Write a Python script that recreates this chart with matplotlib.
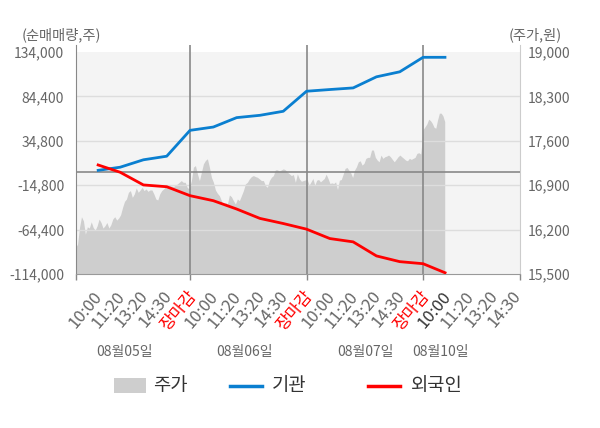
import numpy as np
import matplotlib
matplotlib.use("Agg")
import matplotlib.pyplot as plt
from matplotlib.patches import Rectangle
from matplotlib.lines import Line2D

plt.rcParams['font.family'] = ['Noto Sans CJK KR', 'DejaVu Sans']

# ---------------- data ----------------
tick_labels = ["10:00", "11:20", "13:20", "14:30", "장마감",
               "10:00", "11:20", "13:20", "14:30", "장마감",
               "10:00", "11:20", "13:20", "14:30", "장마감",
               "10:00", "11:20", "13:20", "14:30"]
date_labels = ["08월05일", "08월06일", "08월07일", "08월10일"]

# investor net buying at report slots (10:00, 11:20, 13:20, 14:30, close per day)
flow_slots = list(range(1, 17))
institution = [1600, 5300, 13600, 17600, 46500,
               50200, 60700, 63300, 67800, 90200,
               92100, 93900, 106300, 111900, 128100,
               128100]
foreign = [8300, -300, -14500, -16500, -26500,
           -32100, -41400, -51900, -57600, -63900,
           -74400, -78100, -93800, -100200, -102500,
           -113200]

# intraday price per day
price_day1 = [15916, 15970, 16233, 16403, 16339, 16128, 16244, 16224, 16323, 16233,
              16191, 16260, 16366, 16312, 16224, 16260, 16312, 16224, 16276, 16366,
              16403, 16350, 16382, 16434, 16550, 16645, 16683, 16788, 16815, 16708,
              16762, 16857, 16788, 16825, 16867, 16815, 16841, 16803, 16825, 16825,
              16762, 16683, 16667, 16762, 16815, 16841, 16878, 16867, 16894, 16886,
              16878, 16900, 16920, 16946, 16973, 16946, 16946, 16867, 16841]
price_day2 = [16973, 17184, 17210, 17079, 16973, 17105, 17237, 17290, 17317, 17184,
              17025, 16946, 16825, 16772, 16735, 16656, 16577, 16629, 16603, 16746,
              16719, 16656, 16603, 16683, 16656, 16735, 16815, 16920, 16946, 17000,
              17036, 17052, 17036, 17025, 17000, 16973, 16973, 16894, 16867, 16973,
              17025, 17052, 17142, 17142, 17121, 17142, 17158, 17142, 17105, 17079,
              17052, 17068, 16946, 17079, 17000, 16962, 16973, 16984]
price_day3 = [16990, 16900, 16953, 17006, 16900, 16979, 16990, 16953, 16979, 17006,
              17074, 17006, 16927, 16937, 16927, 16953, 16832, 16979, 16990, 17074,
              17164, 17180, 17138, 17095, 17022, 17138, 17190, 17269, 17285, 17217,
              17244, 17323, 17339, 17339, 17454, 17454, 17339, 17296, 17269, 17375,
              17323, 17348, 17359, 17375, 17348, 17307, 17269, 17307, 17348, 17375,
              17348, 17323, 17296, 17285, 17323, 17307, 17323, 17339, 17402, 17412,
              17391]
price_day4 = [17782, 17823, 17866, 17940, 17919, 17877, 17814, 17798, 17930, 18036,
              18036, 17993, 17903]
# time span (in report-slot units) covered by each day's price samples
day_spans = [(0.09, 4.96), (5.06, 9.95), (10.03, 14.9), (15.01, 15.93)]

left_ticks = [134000, 84400, 34800, -14800, -64400, -114000]
right_ticks = [19000, 18300, 17600, 16900, 16200, 15500]

# ---------------- style ----------------
BLUE = '#0a7fd0'
RED = '#ff0000'
AREA = '#cecece'
W, H = 600, 428

fig = plt.figure(figsize=(W / 100, H / 100), dpi=100)
ax1 = fig.add_axes([76 / W, (H - 274) / H, 444 / W, (274 - 45) / H])
ax2 = ax1.twinx()
ax1.set_zorder(2)
ax1.patch.set_visible(False)
ax2.set_zorder(1)

xmin, xmax = 0.107, 19.16
ax1.set_xlim(xmin, xmax)
top_extra = 7850
ax1.set_ylim(left_ticks[-1], left_ticks[0] + top_extra)
ax2.set_ylim(right_ticks[-1], right_ticks[0] + top_extra / (left_ticks[0] - left_ticks[-1]) * (right_ticks[0] - right_ticks[-1]))

# background band and price area
ax2.axhspan(right_ticks[-1], right_ticks[0], color='#f4f4f4', zorder=0, lw=0)
px, pv = [], []
for vals, (s, e) in zip([price_day1, price_day2, price_day3, price_day4], day_spans):
    px.extend(np.linspace(s, e, len(vals)))
    pv.extend(vals)
ax2.fill_between(px, pv, right_ticks[-1] - 500, color=AREA, lw=0, zorder=1)

# grid
for t in left_ticks[1:-1]:
    ax1.axhline(t, color='#dddddd', lw=1, zorder=1)
ax1.axhline(0, color='#888888', lw=1.2, zorder=2)
for b in (5, 10, 15):
    ax1.axvline(b, color='#888888', lw=1.2, zorder=2)

# lines
ax1.plot(flow_slots, institution, color=BLUE, lw=2.0, zorder=5, solid_capstyle='butt')
ax1.plot(flow_slots, foreign, color=RED, lw=2.0, zorder=5, solid_capstyle='butt')

# y axes
ax1.set_yticks(left_ticks, labels=[f"{v:,}" for v in left_ticks])
ax2.set_yticks(right_ticks, labels=[f"{v:,}" for v in right_ticks])
ax1.tick_params(axis='y', length=0, pad=8.5, labelsize=10, labelcolor='#666666')
ax2.tick_params(axis='y', length=0, pad=5.5, labelsize=10, labelcolor='#666666')

# x axis
ax1.set_xticks([xmin, 5, 10, 15, xmax], labels=[''] * 5)
ax1.set_xticks([k + 0.5 for k in range(len(tick_labels))], labels=tick_labels, minor=True)
ax1.tick_params(axis='x', which='major', length=4, color='#888888', width=1)
ax1.tick_params(axis='x', which='minor', length=0, pad=10, labelsize=12)
for i, lbl in enumerate(ax1.get_xticklabels(minor=True)):
    lbl.set_rotation(50)
    lbl.set_ha('center')
    if tick_labels[i] == "장마감":
        lbl.set_color(RED)
    elif i == 15:
        lbl.set_color('#333333')
    else:
        lbl.set_color('#666666')

for sp in ('top', 'right'):
    ax1.spines[sp].set_visible(False)
ax1.spines['left'].set_color('#888888')
ax1.spines['bottom'].set_color('#999999')
for sp in ('top', 'left', 'bottom'):
    ax2.spines[sp].set_visible(False)
ax2.spines['right'].set_color('#cccccc')

# header labels
fig.text(22 / W, 1 - 35 / H, "(순매매량,주)", ha='left', va='center', fontsize=10.3, color='#666666')
fig.text(562 / W, 1 - 35 / H, "(주가,원)", ha='right', va='center', fontsize=10.3, color='#666666')

# date labels
for xpix, d in zip([124.5, 244.5, 365, 440.5], date_labels):
    fig.text(xpix / W, 1 - 352 / H, d, ha='center', va='center', fontsize=10, color='#666666')

# legend
ly = 1 - 386 / H
fig.patches.append(Rectangle((114 / W, 1 - 393 / H), 32 / W, 15 / H, transform=fig.transFigure,
                             facecolor=AREA, edgecolor='none'))
fig.text(153 / W, ly, "주가", ha='left', va='center', fontsize=13.5, color='#333333')
fig.add_artist(Line2D([230 / W, 262 / W], [ly, ly], transform=fig.transFigure, color=BLUE, lw=2.5))
fig.text(272 / W, ly, "기관", ha='left', va='center', fontsize=13.5, color='#333333')
fig.add_artist(Line2D([368 / W, 400 / W], [ly, ly], transform=fig.transFigure, color=RED, lw=2.5))
fig.text(411 / W, ly, "외국인", ha='left', va='center', fontsize=13.5, color='#333333')

fig.savefig("out.png", dpi=100, facecolor='white')
